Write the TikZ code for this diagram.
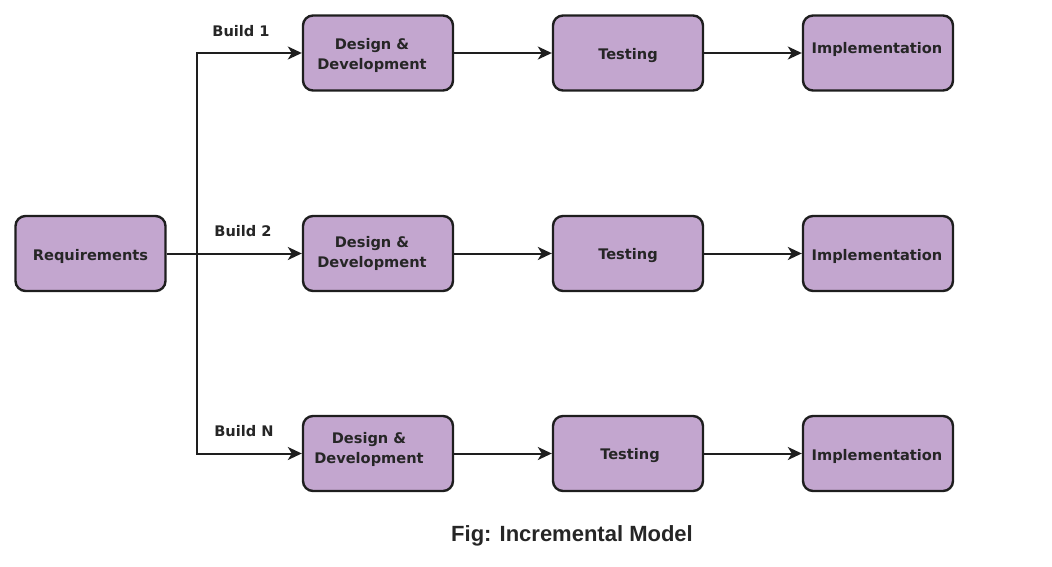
\documentclass[tikz,border=0pt]{standalone}
\usepackage{fontspec}
\setmainfont{DejaVu Sans}
\newfontfamily\capfont{Liberation Sans}
\usetikzlibrary{arrows.meta}
\definecolor{boxfill}{HTML}{C3A6CF}
\definecolor{boxline}{HTML}{1E1E1E}
\tikzset{
  stagebox/.style={draw=boxline, line width=2.4pt, fill=boxfill, rounded corners=10pt,
    minimum width=150pt, minimum height=75pt, inner sep=0pt},
  boxtext/.style={font=\fontsize{14.6}{20}\selectfont\bfseries, text=black!85, align=center, inner sep=0pt},
  buildtext/.style={font=\fontsize{14.6}{17}\selectfont\bfseries, text=black!85, inner sep=0pt},
  conn/.style={draw=boxline, line width=2pt},
  arr/.style={conn, -{Stealth[length=14pt,width=13pt,inset=4pt]}},
}
\begin{document}
\begin{tikzpicture}[x=1pt,y=-1pt]
\useasboundingbox (0,0) rectangle (1052,567);
% boxes
\node[stagebox] (req) at (90.5,253.5) {};
\foreach \r/\y in {1/53,2/253.5,3/453.5}{
  \node[stagebox] (d\r) at (378,\y) {};
  \node[stagebox] (t\r) at (628,\y) {};
  \node[stagebox] (i\r) at (878,\y) {};
}
% texts
\node[boxtext] (reqtxt) at (90.5,256) {Requirements};
\node[boxtext] (d1txt) at (372,55.5) {Design \&\\Development};
\node[boxtext] (d2txt) at (372,253.5) {Design \&\\Development};
\node[boxtext] (d3txt) at (369,449.5) {Design \&\\Development};
\node[boxtext] (t1txt) at (628,56) {Testing};
\node[boxtext] (t2txt) at (628,256) {Testing};
\node[boxtext] (t3txt) at (630,456) {Testing};
\node[boxtext] (i1txt) at (877,49) {Implementation};
\node[boxtext] (i2txt) at (877,256) {Implementation};
\node[boxtext] (i3txt) at (877,456) {Implementation};
% build labels
\node[buildtext] (b1) at (241,31) {Build 1};
\node[buildtext] (b2) at (243,231) {Build 2};
\node[buildtext] (bn) at (244,431) {Build N};
% connectors
\coordinate (j2) at (197,253.5);
\draw[conn] (req.east) -- (j2);
\draw[arr] (j2) -- (d2.west);
\draw[arr] (j2) |- (d1.west);
\draw[arr] (j2) |- (d3.west);
\foreach \r in {1,2,3}{
  \draw[arr] (d\r.east) -- (t\r.west);
  \draw[arr] (t\r.east) -- (i\r.west);
}
% caption
\node[font=\capfont\fontsize{22}{24}\selectfont\bfseries, text=black!85, inner sep=0pt] (cap) at (572,536) {Fig: Incremental Model};
\end{tikzpicture}
\end{document}
